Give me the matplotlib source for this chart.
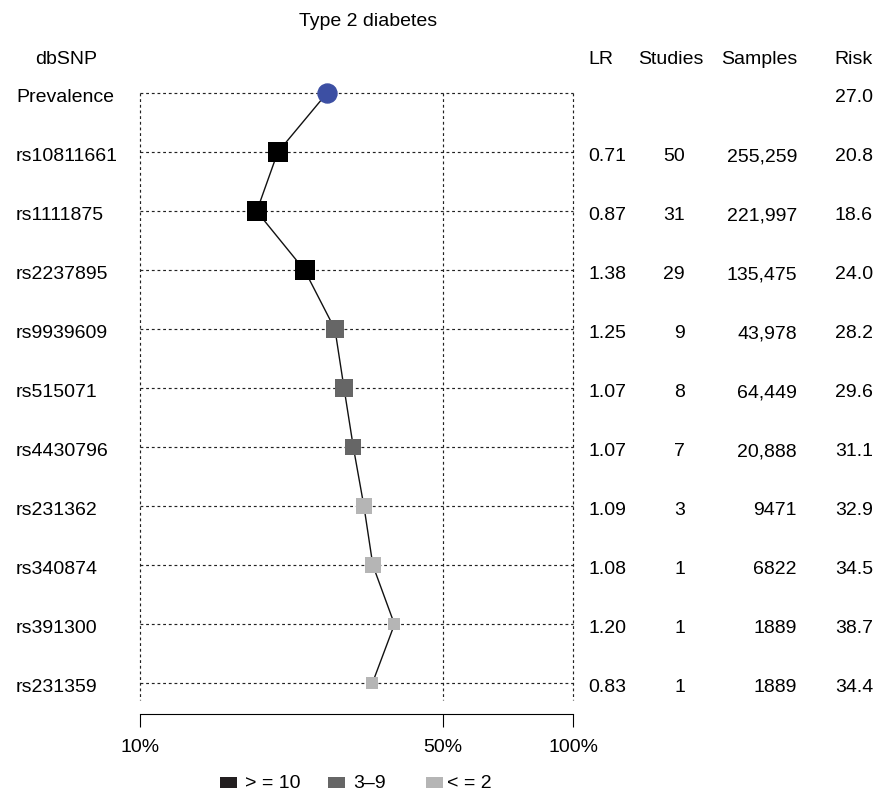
import numpy as np
import matplotlib
matplotlib.use("Agg")
import matplotlib.pyplot as plt
from matplotlib.patches import Rectangle
from matplotlib.ticker import NullLocator
from matplotlib.transforms import blended_transform_factory, ScaledTranslation

plt.rcParams['font.family'] = ['Liberation Sans', 'DejaVu Sans']

# data
snps = ['Prevalence', 'rs10811661', 'rs1111875', 'rs2237895', 'rs9939609', 'rs515071',
        'rs4430796', 'rs231362', 'rs340874', 'rs391300', 'rs231359']
risk = [27.0, 20.8, 18.6, 24.0, 28.2, 29.6, 31.1, 32.9, 34.5, 38.7, 34.4]
lr = [None, 0.71, 0.87, 1.38, 1.25, 1.07, 1.07, 1.09, 1.08, 1.20, 0.83]
studies = [None, 50, 31, 29, 9, 8, 7, 3, 1, 1, 1]
samples = [None, 255259, 221997, 135475, 43978, 64449, 20888, 9471, 6822, 1889, 1889]
xticks = [10, 50, 100]
xticklabels = ['10%', '50%', '100%']
legend_labels = ['> = 10', '3\u20139', '< = 2']

W, H = 876, 793
fs = 14
col_big = '#000000'
col_mid = '#666666'
col_small = '#b5b5b5'
col_prev = '#3c4fa3'
dots = (0, (2.4, 2.4))

fig = plt.figure(figsize=(W / 100, H / 100), dpi=100)
# axes: x from 140 to 573 px, top 80 px, bottom spine at 713.5 px
ax = fig.add_axes([140 / W, 1 - 713.5 / H, (573 - 140) / W, (713.5 - 80) / H])
ax.set_xscale('log')
ax.set_xlim(10, 100)
row0, step = 93.3, 59.0
ax.set_ylim((713.5 - row0) / step, (80 - row0) / step)

rows = np.arange(len(snps))

# dotted grid
ax.hlines(rows, 10, 100, colors='#222222', linewidth=0.85, linestyles=dots, zorder=1, clip_on=False)
ax.vlines(xticks, 0, (700 - row0) / step, colors='#222222', linewidth=0.85, linestyles=dots,
          zorder=1, clip_on=False)

ax.plot(risk, rows, color='#111111', linewidth=1.0, zorder=2, clip_on=False)

ax.plot(risk[0], rows[0], 'o', color=col_prev, markersize=19 * 0.72, zorder=3, clip_on=False)
for i in range(1, len(snps)):
    # colour by number of studies (the 3-study row is drawn light in the original)
    if studies[i] >= 10:
        c = col_big
    elif studies[i] > 3:
        c = col_mid
    else:
        c = col_small
    size_px = 13 + 3.76 * (np.log10(samples[i]) - 3.28)
    ax.plot(risk[i], rows[i], 's', color=c, markersize=size_px * 0.72, markeredgewidth=0,
            zorder=3, clip_on=False)

for s in ['top', 'left', 'right']:
    ax.spines[s].set_visible(False)
ax.spines['bottom'].set_linewidth(0.8)
ax.set_yticks([])
ax.set_xticks(xticks)
ax.set_xticklabels(xticklabels, fontsize=fs)
ax.xaxis.set_minor_locator(NullLocator())
ax.tick_params(axis='x', direction='out', length=9.5, width=0.8, pad=9)

# row texts: baseline ~8.7 px below each row line
tr = blended_transform_factory(fig.transFigure, ax.transData) + ScaledTranslation(0, -0.087, fig.dpi_scale_trans)
for i in range(len(snps)):
    ax.text(16 / W, rows[i], snps[i], transform=tr, ha='left', va='baseline', fontsize=fs)
    ax.text(873 / W, rows[i], f"{risk[i]:.1f}", transform=tr, ha='right', va='baseline', fontsize=fs)
    if lr[i] is not None:
        ax.text(588 / W, rows[i], f"{lr[i]:.2f}", transform=tr, ha='left', va='baseline', fontsize=fs)
        ax.text(685 / W, rows[i], str(studies[i]), transform=tr, ha='right', va='baseline', fontsize=fs)
        if samples[i] >= 10000:
            st = f"{samples[i]:,}"
        else:
            st = str(samples[i])
        ax.text(797 / W, rows[i], st, transform=tr, ha='right', va='baseline', fontsize=fs)

# title and column headers
fig.text(368 / W, 1 - 26 / H, 'Type 2 diabetes', ha='center', va='baseline', fontsize=fs)
fig.text(66 / W, 1 - 64 / H, 'dbSNP', ha='center', va='baseline', fontsize=fs)
fig.text(588 / W, 1 - 64 / H, 'LR', ha='left', va='baseline', fontsize=fs)
fig.text(671 / W, 1 - 64 / H, 'Studies', ha='center', va='baseline', fontsize=fs)
fig.text(797 / W, 1 - 64 / H, 'Samples', ha='right', va='baseline', fontsize=fs)
fig.text(873 / W, 1 - 64 / H, 'Risk', ha='right', va='baseline', fontsize=fs)

# legend
leg_x = [220, 328, 426]
leg_tx = [245, 353, 447]
leg_cols = ['#231f20', col_mid, col_small]
for j in range(3):
    fig.add_artist(Rectangle((leg_x[j] / W, 1 - 788 / H), 17 / W, 11 / H, transform=fig.transFigure,
                             facecolor=leg_cols[j], edgecolor='none'))
    fig.text(leg_tx[j] / W, 1 - 788 / H, legend_labels[j], ha='left', va='baseline', fontsize=fs)

fig.savefig('out.png', dpi=100)
